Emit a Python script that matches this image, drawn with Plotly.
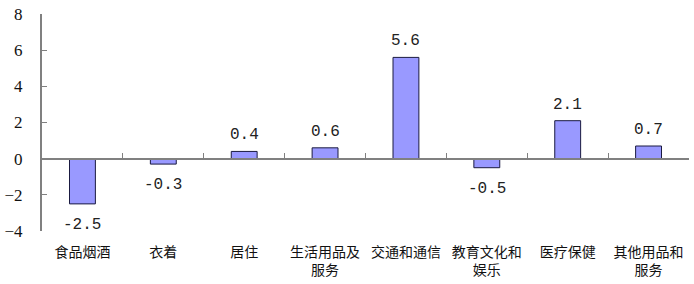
import plotly.graph_objects as go

categories = ["食品烟酒", "衣着", "居住", "生活用品及<br>服务", "交通和通信",
              "教育文化和<br>娱乐", "医疗保健", "其他用品和<br>服务"]
values = [-2.5, -0.3, 0.4, 0.6, 5.6, -0.5, 2.1, 0.7]
value_labels = ["-2.5", "-0.3", "0.4", "0.6", "5.6", "-0.5", "2.1", "0.7"]
y_ticks = [-4, -2, 0, 2, 4, 6, 8]

fig = go.Figure()
fig.add_trace(go.Bar(
    x=categories, y=values,
    marker=dict(color="#9999FF", line=dict(color="#1a1a40", width=1)),
    width=0.32, xaxis="x", yaxis="y",
))
# invisible trace to drive the axis drawn at zero
fig.add_trace(go.Bar(x=categories, y=[0]*len(categories), xaxis="x2", yaxis="y",
                     marker=dict(color="rgba(0,0,0,0)"), hoverinfo="skip",
                     showlegend=False))

for c, v, t in zip(categories, values, value_labels):
    fig.add_annotation(x=c, y=v, text=t, showarrow=False, xref="x", yref="y",
                       yanchor="middle", yshift=(16 if v >= 0 else -21),
                       font=dict(family="Liberation Mono", size=16, color="#222222"))

fig.update_layout(
    width=694, height=284,
    margin=dict(l=42, r=5, t=10, b=53),
    plot_bgcolor="white", paper_bgcolor="white",
    showlegend=False, barmode="overlay",
    xaxis=dict(showline=False, ticks="", showgrid=False, ticklabelstandoff=11,
               tickfont=dict(family="Noto Sans CJK SC", size=14, color="#111111"),
               range=[-0.5, 7.5]),
    xaxis2=dict(overlaying="x", anchor="free", position=1/3, showline=True,
                linecolor="#808080", linewidth=2, ticks="inside", ticklen=5,
                tickcolor="#808080", tickson="boundaries", showticklabels=False,
                showgrid=False, range=[-0.5, 7.5], matches="x"),
    yaxis=dict(range=[-4, 8], tickvals=y_ticks, showline=True, linecolor="#808080",
               linewidth=2, ticks="inside", ticklen=5, tickcolor="#808080",
               showgrid=False, zeroline=False, ticklabelstandoff=14,
               tickfont=dict(family="Liberation Serif", size=17, color="#111111")),
)

fig.write_html("out.html")
